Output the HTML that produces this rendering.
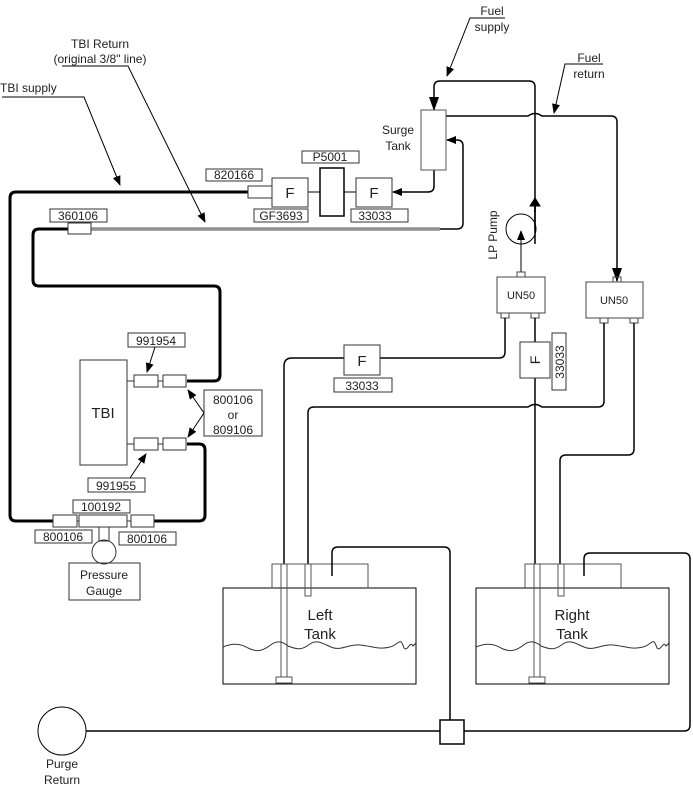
<!DOCTYPE html>
<html><head><meta charset="utf-8"><style>
html,body{margin:0;padding:0;background:#fff;}
svg{display:block;}
text{font-family:"Liberation Sans",sans-serif;fill:#222;}
</style></head><body>
<svg width="693" height="788" viewBox="0 0 693 788" xmlns="http://www.w3.org/2000/svg">
<defs>
<marker id="a" markerWidth="10" markerHeight="10" refX="9" refY="5" orient="auto" markerUnits="userSpaceOnUse"><path d="M0,1 L10,5 L0,9 z" fill="#000"/></marker>
<marker id="b" markerWidth="14" markerHeight="12" refX="13" refY="6" orient="auto" markerUnits="userSpaceOnUse"><path d="M0,1 L14,6 L0,11 z" fill="#000"/></marker>
</defs>
<g fill="none" stroke="#000">
<!-- TBI supply heavy -->
<path d="M248,192 H16 Q10,192 10,198 V515 Q10,521 16,521 H53" stroke-width="3"/>
<path d="M154,521 H199 Q205,521 205,515 V450 Q205,444 199,444 H187" stroke-width="3"/>
<!-- TBI return heavy -->
<path d="M68,229 H39 Q33,229 33,235 V280 Q33,286 39,286 H214 Q220,286 220,292 V375 Q220,381 214,381 H187" stroke-width="3"/>
<!-- gray return line -->
<path d="M91,229 H440" stroke="#555" stroke-width="3"/>
<path d="M91,229 H440" stroke="#ccc" stroke-width="1"/>
<path d="M440,229 H457 Q463,229 463,223 V146 Q463,140 457,140 H447" stroke-width="1.5" marker-end="url(#a)"/>
<!-- surge to filter -->
<path d="M434,170 V186 Q434,192 428,192 H393" stroke-width="1.5" marker-end="url(#a)"/>
<path d="M308,192 H320 M344,192 H356" stroke-width="1"/>
<!-- fuel supply line -->
<path d="M535,244 V87 Q535,81 529,81 H440 Q434,81 434,87 V110" stroke-width="1.5" marker-end="url(#b)"/>
<path d="M535,200 V212" stroke-width="1.5"/>
<path d="M530,206 L535,198 L540,206 z" fill="#000"/>
<!-- fuel return line -->
<path d="M446,116 H528 Q535,111 542,116 H611 Q617,116 617,122 V281" stroke-width="1.5" marker-end="url(#b)"/>
<!-- LP pump -->
<circle cx="521" cy="229" r="15" stroke-width="1"/>
<path d="M521,272 V231" stroke-width="1" marker-end="url(#a)"/>
<path d="M535,229 V200" stroke-width="1.5"/>
<!-- UN50 boxes -->
<rect x="497" y="277" width="48" height="36" stroke="#444"/>
<rect x="517" y="272" width="8" height="5" stroke="#444"/>
<rect x="501" y="313" width="8" height="5" stroke="#444"/>
<rect x="531" y="313" width="8" height="5" stroke="#444"/>
<rect x="586" y="282" width="57" height="36" stroke="#444"/>
<rect x="613" y="277" width="8" height="5" stroke="#444"/>
<rect x="600" y="318" width="8" height="5" stroke="#444"/>
<rect x="630" y="318" width="8" height="5" stroke="#444"/>
<!-- tank pipes -->
<path d="M505,318 V352 Q505,358 499,358 H292 Q284,358 284,366 V564" stroke-width="1.5"/>
<path d="M535,318 V564" stroke-width="1.5"/>
<path d="M604,323 V401 Q604,407 598,407 H542 Q535,402 528,407 H314 Q308,407 308,413 V564" stroke-width="1.5"/>
<path d="M634,323 V449 Q634,455 628,455 H566 Q560,455 560,461 V564" stroke-width="1.5"/>
<!-- tanks -->
<g id="tank">
<rect x="223" y="588" width="193" height="96" stroke-width="1"/>
<path d="M272,588 V564 H368 V588" stroke="#555"/>
<rect x="281" y="564" width="6" height="113" stroke="#555"/>
<rect x="276" y="677" width="16" height="6" stroke="#555"/>
<rect x="305" y="564" width="6" height="32" stroke="#555"/>
<path d="M223,647 C232,643 240,643 248,648 C256,652 262,652 272,644 C278,640 283,642 288,646 C298,650 302,650 310,644 C318,638 326,646 334,648 C342,650 350,644 360,645 C372,646 378,650 390,647 C400,644 400,636 404,648 C408,652 410,640 413,646 L416,643" stroke="#333"/>
</g>
<use href="#tank" transform="translate(253,0)"/>
<path d="M332,576 V553 Q332,547 338,547 H444 Q450,547 450,553 V720" stroke-width="1.5"/>
<path d="M584,576 V559 Q584,553 590,553 H684 Q690,553 690,559 V725 Q690,731 684,731 H464" stroke-width="1.5"/>
<path d="M86,731 H440" stroke-width="1.5"/>
<rect x="440" y="720" width="24" height="24" stroke-width="1.5"/>
<circle cx="62" cy="731" r="24" stroke-width="1"/>
<!-- components top -->
<rect x="421" y="110" width="25" height="60" stroke="#555"/>
<rect x="248" y="186" width="24" height="12" stroke="#333"/>
<rect x="272" y="178" width="36" height="29" stroke="#333"/>
<rect x="320" y="168" width="24" height="48" stroke-width="1.5"/>
<rect x="356" y="178" width="36" height="29" stroke="#333"/>
<rect x="206" y="169" width="56" height="12" stroke="#333"/>
<rect x="302" y="151" width="57" height="12" stroke="#333"/>
<rect x="254" y="209" width="54" height="13" stroke="#333"/>
<rect x="351" y="209" width="57" height="13" stroke="#333"/>
<rect x="50" y="209" width="57" height="13" stroke="#333"/>
<rect x="68" y="223" width="23" height="11" stroke="#333"/>
<!-- filters lower -->
<rect x="344" y="345" width="36" height="30" stroke="#333" fill="#fff"/>
<rect x="334" y="378" width="58" height="14" stroke="#333"/>
<rect x="520" y="342" width="30" height="36" stroke="#333" fill="#fff"/>
<rect x="552" y="333" width="14" height="57" stroke="#333"/>
<!-- TBI -->
<rect x="80" y="360" width="47" height="105" stroke="#333"/>
<path d="M127,381 H134 M158,381 H163 M127,444 H134 M158,444 H163" stroke="#333"/>
<rect x="134" y="375" width="24" height="12" stroke="#333"/>
<rect x="163" y="375" width="23" height="12" stroke="#333"/>
<rect x="134" y="438" width="24" height="12" stroke="#333"/>
<rect x="163" y="438" width="23" height="12" stroke="#333"/>
<rect x="128" y="333" width="57" height="14" stroke="#333"/>
<rect x="204" y="390" width="58" height="46" stroke="#333"/>
<rect x="88" y="478" width="57" height="14" stroke="#333"/>
<rect x="73" y="500" width="57" height="13" stroke="#333"/>
<rect x="53" y="515" width="24" height="12" stroke="#333"/>
<rect x="79" y="515" width="48" height="12" stroke="#333"/>
<rect x="131" y="515" width="23" height="12" stroke="#333"/>
<path d="M77,521 H79 M127,521 H131" stroke="#333"/>
<rect x="35" y="530" width="57" height="13" stroke="#333"/>
<rect x="119" y="532" width="57" height="13" stroke="#333"/>
<rect x="99" y="527" width="10" height="14" stroke="#333"/>
<circle cx="104" cy="552" r="12" stroke="#333"/>
<rect x="69" y="563" width="71" height="37" stroke="#333"/>
<!-- leader arrows -->
<path d="M155,347 L147,372" marker-end="url(#a)"/>
<path d="M204,413 L188,390" marker-end="url(#a)"/>
<path d="M204,413 L188,437" marker-end="url(#a)"/>
<path d="M130,478 L146,454" marker-end="url(#a)"/>
<path d="M2,97 H84 L120,185" marker-end="url(#a)"/>
<path d="M62,66 H128 L205,222" marker-end="url(#a)"/>
<path d="M505,18 H470 L447,76" marker-end="url(#a)"/>
<path d="M603,64 H565 L554,113" marker-end="url(#a)"/>
</g>
<g font-size="12">
<text x="100" y="48" text-anchor="middle">TBI Return</text>
<text x="100" y="63" text-anchor="middle">(original 3/8" line)</text>
<text x="0" y="92">TBI supply</text>
<text x="492" y="15" text-anchor="middle">Fuel</text>
<text x="492" y="31" text-anchor="middle">supply</text>
<text x="589" y="62" text-anchor="middle">Fuel</text>
<text x="589" y="78" text-anchor="middle">return</text>
<text x="398" y="134" text-anchor="middle">Surge</text>
<text x="398" y="150" text-anchor="middle">Tank</text>
<text x="234" y="179" text-anchor="middle">820166</text>
<text x="330" y="161" text-anchor="middle">P5001</text>
<text x="281" y="220" text-anchor="middle">GF3693</text>
<text x="375" y="220" text-anchor="middle">33033</text>
<text x="78" y="220" text-anchor="middle">360106</text>
<text x="156" y="345" text-anchor="middle">991954</text>
<text x="233" y="404" text-anchor="middle">800106</text>
<text x="233" y="419" text-anchor="middle">or</text>
<text x="233" y="434" text-anchor="middle">809106</text>
<text x="116" y="490" text-anchor="middle">991955</text>
<text x="101" y="511" text-anchor="middle">100192</text>
<text x="63" y="541" text-anchor="middle">800106</text>
<text x="147" y="543" text-anchor="middle">800106</text>
<text x="104" y="579" text-anchor="middle">Pressure</text>
<text x="104" y="595" text-anchor="middle">Gauge</text>
<text x="362" y="390" text-anchor="middle">33033</text>
<text x="62" y="768" text-anchor="middle">Purge</text>
<text x="62" y="784" text-anchor="middle">Return</text>
<text x="497" y="235" text-anchor="middle" transform="rotate(-90 497 235)">LP Pump</text>
<text x="564" y="362" text-anchor="middle" transform="rotate(-90 564 362)">33033</text>
<text x="535" y="365" text-anchor="middle" font-size="14" transform="rotate(-90 535 360)">F</text>
</g>
<g font-size="11">
<text x="521" y="299" text-anchor="middle">UN50</text>
<text x="614" y="304" text-anchor="middle">UN50</text>
</g>
<g font-size="15">
<text x="290" y="198" text-anchor="middle">F</text>
<text x="374" y="198" text-anchor="middle">F</text>
<text x="362" y="366" text-anchor="middle">F</text>
<text x="103" y="418" text-anchor="middle">TBI</text>
<text x="320" y="620" text-anchor="middle">Left</text>
<text x="320" y="639" text-anchor="middle">Tank</text>
<text x="572" y="620" text-anchor="middle">Right</text>
<text x="572" y="639" text-anchor="middle">Tank</text>
</g>
</svg>
</body></html>
